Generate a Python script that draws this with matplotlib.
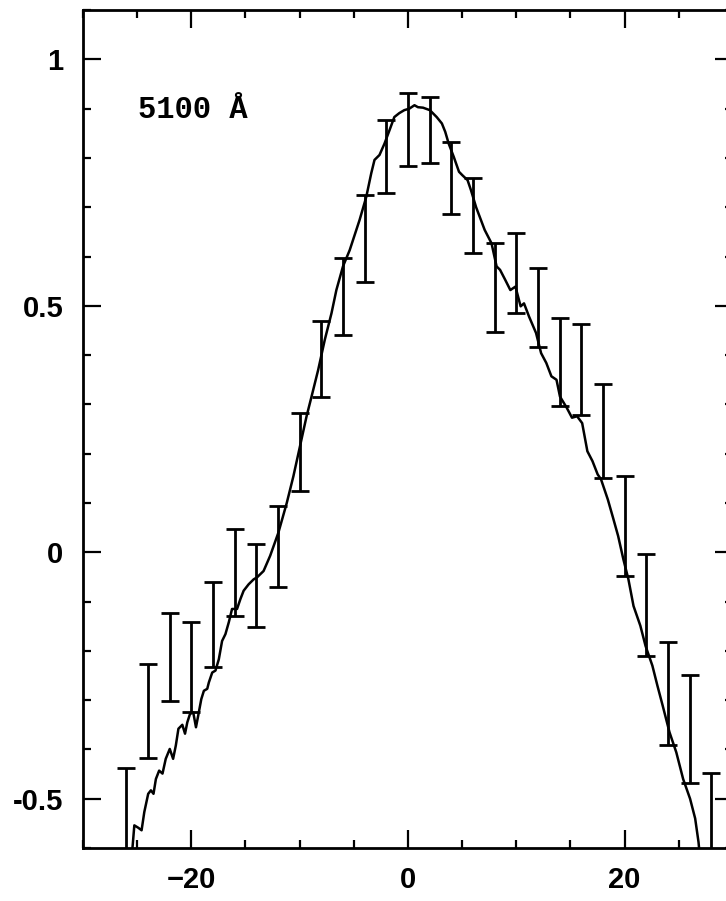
"""Line profile at 5100 A with binned error bars (scan recreation)."""
import numpy as np
import matplotlib
matplotlib.use("Agg")
import matplotlib.pyplot as plt
from matplotlib.ticker import MultipleLocator

plt.rcParams.update({"font.family": "Liberation Sans", "font.weight": "bold",
                     "xtick.labelsize": 21, "ytick.labelsize": 21})

prof_x = [-25.6, -25.41, -25.26, -24.89, -24.59, -24.34, -23.98, -23.73, -23.49, -23.27,
          -22.97, -22.66, -22.36, -21.99, -21.68, -21.43, -21.19, -20.83, -20.58, -20.37,
          -20.12, -19.82, -19.57, -19.36, -19.08, -18.84, -18.53, -18.38, -18.07, -17.77,
          -17.46, -17.16, -16.85, -16.54, -16.24, -15.78, -15.47, -15.17, -14.71, -14.25,
          -13.94, -13.33, -12.72, -11.96, -11.19, -10.58, -9.97, -9.36, -8.90, -8.29,
          -7.68, -7.06, -6.61, -6.00, -5.38, -4.47, -3.85, -3.39, -3.09, -2.63,
          -2.17, -1.71, -1.26, -0.80, -0.34, 0.12, 0.60, 0.92, 1.39, 2.02,
          2.65, 3.13, 3.44, 3.76, 4.23, 4.71, 5.02, 5.50, 5.81, 6.29,
          7.08, 7.71, 8.18, 8.50, 8.97, 9.45, 9.92, 10.40, 10.71, 11.18,
          11.82, 12.29, 12.77, 13.24, 13.71, 14.03, 14.66, 15.14, 15.61, 16.08,
          16.56, 17.03, 17.51, 17.82, 18.45, 18.93, 19.40, 19.88, 20.35, 20.82,
          21.45, 21.93, 22.56, 23.03, 23.51, 24.14, 24.77, 25.40, 26.04, 26.51,
          26.82, 27.0]
prof_y = [-0.64, -0.594, -0.554, -0.559, -0.564, -0.527, -0.490, -0.483, -0.490, -0.460,
          -0.443, -0.449, -0.419, -0.399, -0.419, -0.392, -0.358, -0.350, -0.368, -0.345,
          -0.328, -0.325, -0.355, -0.331, -0.298, -0.281, -0.277, -0.264, -0.244, -0.240,
          -0.217, -0.180, -0.166, -0.142, -0.115, -0.115, -0.095, -0.078, -0.065, -0.055,
          -0.051, -0.038, -0.007, 0.040, 0.100, 0.154, 0.215, 0.276, 0.316, 0.370,
          0.431, 0.485, 0.532, 0.580, 0.613, 0.674, 0.721, 0.769, 0.796, 0.806,
          0.829, 0.856, 0.883, 0.891, 0.897, 0.900, 0.907, 0.903, 0.902, 0.897,
          0.883, 0.870, 0.853, 0.829, 0.802, 0.772, 0.765, 0.755, 0.735, 0.700,
          0.654, 0.627, 0.580, 0.573, 0.553, 0.532, 0.539, 0.499, 0.505, 0.478,
          0.445, 0.404, 0.384, 0.357, 0.350, 0.316, 0.293, 0.273, 0.276, 0.262,
          0.205, 0.185, 0.158, 0.148, 0.107, 0.070, 0.033, -0.014, -0.055, -0.109,
          -0.149, -0.190, -0.230, -0.271, -0.311, -0.365, -0.406, -0.460, -0.500, -0.540,
          -0.588, -0.63]

# binned points: lower / upper ends of each error bar
bin_x = list(range(-26, 30, 2))
bin_lo = [-0.63, -0.417, -0.302, -0.324, -0.233, -0.129, -0.152, -0.071, 0.124, 0.316,
          0.440, 0.548, 0.729, 0.783, 0.789, 0.686, 0.607, 0.447, 0.486, 0.417,
          0.296, 0.279, 0.150, -0.049, -0.211, -0.392, -0.468, -0.65]
bin_hi = [-0.437, -0.227, -0.123, -0.141, -0.061, 0.047, 0.016, 0.093, 0.283, 0.470,
          0.597, 0.725, 0.877, 0.931, 0.923, 0.832, 0.759, 0.628, 0.648, 0.577,
          0.476, 0.464, 0.342, 0.154, -0.004, -0.183, -0.248, -0.447]

lo, hi = np.array(bin_lo), np.array(bin_hi)
mid = (lo + hi) / 2

fig = plt.figure(figsize=(7.26, 9.01), dpi=100)
ax = fig.add_axes([0.1143, 0.0588, 0.8953, 0.930])

ax.plot(prof_x, prof_y, color="black", lw=1.8)
ax.errorbar(bin_x, mid, yerr=(hi - lo) / 2, fmt="none", ecolor="black",
            elinewidth=2.0, capsize=6.5, capthick=2.0)

ax.set_xlim(-30, 30)
ax.set_ylim(-0.6, 1.1)
ax.xaxis.set_major_locator(MultipleLocator(20))
ax.xaxis.set_minor_locator(MultipleLocator(5))
ax.set_yticks([-0.5, 0, 0.5, 1])
ax.set_yticklabels(["-0.5", "0", "0.5", "1"])
ax.yaxis.set_minor_locator(MultipleLocator(0.1))

ax.tick_params(which="both", direction="in", top=True, right=True, width=1.6)
ax.tick_params(which="major", length=13)
ax.tick_params(which="minor", length=6)
ax.tick_params(axis="x", pad=13)
ax.tick_params(axis="y", pad=14)
for s in ax.spines.values():
    s.set_linewidth(2.0)

ax.text(0.0846, 0.871, "5100 Å", transform=ax.transAxes, fontsize=22,
        family="Liberation Mono", fontweight="bold", va="baseline", ha="left")

fig.savefig("out.png", dpi=100)
